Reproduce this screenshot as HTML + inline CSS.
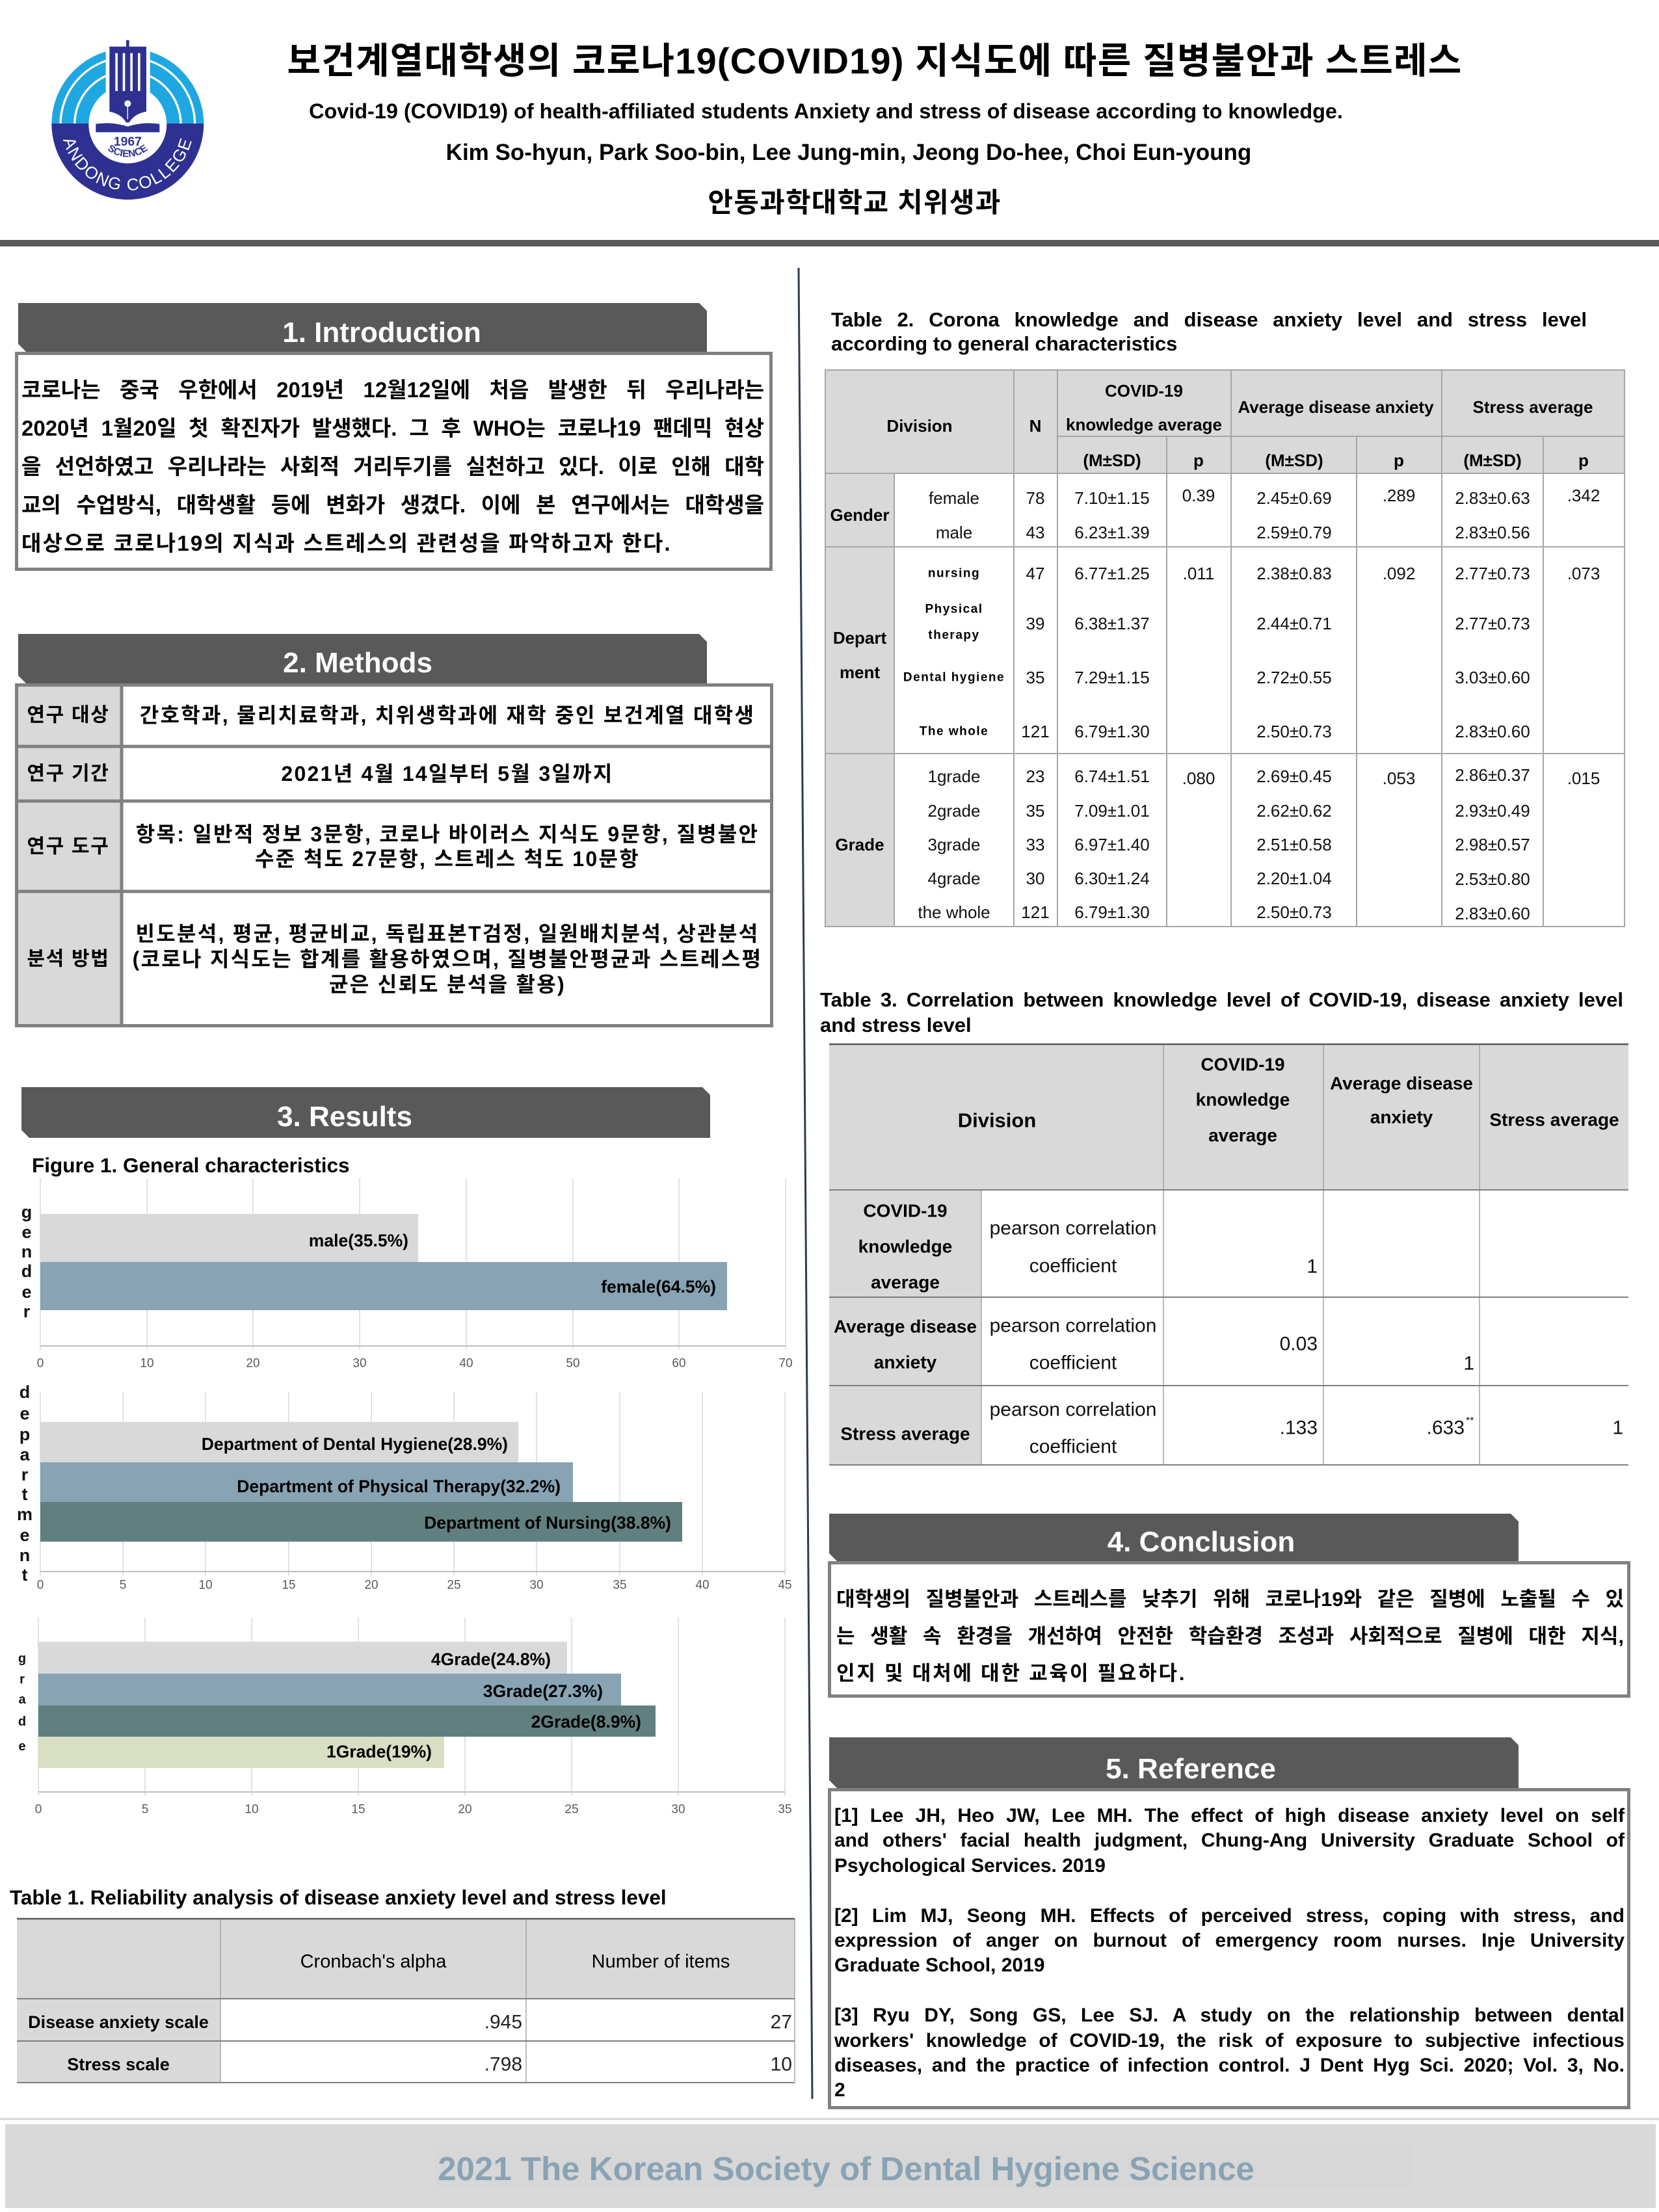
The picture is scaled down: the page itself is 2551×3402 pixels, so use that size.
<!DOCTYPE html>
<html><head><meta charset="utf-8">
<style>
html,body{margin:0;padding:0;background:#fff;}
body{width:2551px;height:3402px;position:relative;overflow:hidden;font-family:"Liberation Sans","Noto Sans CJK KR",sans-serif;}
svg.main{position:absolute;left:0;top:0;}
.p{position:absolute;font-weight:bold;color:#000;font-family:"Liberation Sans","Noto Sans CJK KR",sans-serif;}
.p div{text-align:justify;text-align-last:justify;}
.p div.l{text-align:left;text-align-last:left;}
</style></head><body>
<svg class="main" width="2551" height="3402" viewBox="0 0 2551 3402" font-family="'Liberation Sans','Noto Sans CJK KR',sans-serif">
<!-- LOGO -->
<svg x="40" y="40" width="300" height="300" viewBox="0 0 900 900">
  <path d="M118,454 A351,351 0 0 1 820,454 Z" fill="#1ea7e1"/>
  <circle cx="469" cy="454" r="310" fill="none" stroke="#fff" stroke-width="10"/>
  <circle cx="469" cy="454" r="245" fill="none" stroke="#fff" stroke-width="10"/>
  <path d="M118,450 A351,351 0 0 0 820,450 Z" fill="#2e3192"/>
  <circle cx="469" cy="454" r="180" fill="#fff"/>
  <rect x="368" y="55" width="204" height="395" fill="#fff"/>
  <rect x="462" y="65" width="14" height="35" fill="#2e3192"/>
  <rect x="385" y="95" width="170" height="252" fill="#2e3192"/>
  <rect x="412" y="125" width="11" height="175" fill="#fff"/>
  <rect x="446" y="125" width="11" height="175" fill="#fff"/>
  <rect x="481" y="125" width="11" height="175" fill="#fff"/>
  <rect x="516" y="125" width="11" height="175" fill="#fff"/>
  <path d="M385,345 L555,345 L555,395 Q500,405 476,445 L462,445 Q438,405 385,395 Z" fill="#2e3192"/>
  <circle cx="469" cy="358" r="15" fill="#fff"/>
  <rect x="467" y="360" width="4" height="70" fill="#fff"/>
  <path d="M322,452 Q400,440 469,464 Q538,440 616,452 L616,490 L322,490 Z" fill="#2e3192"/>
  <text x="469" y="552" font-size="58" font-weight="bold" fill="#2e3192" text-anchor="middle" font-family="'Liberation Sans',sans-serif">1967</text>
  <path id="sciArc" d="M319,454 A150,150 0 0 0 619,454" fill="none"/>
  <text font-size="46" font-weight="bold" fill="#2e3192" font-family="'Liberation Sans',sans-serif"><textPath href="#sciArc" startOffset="50%" text-anchor="middle">SCIENCE</textPath></text>
  <path id="andArc" d="M164,454 A305,305 0 0 0 774,454" fill="none"/>
  <text font-size="78" fill="#fff" letter-spacing="6" font-family="'Liberation Sans',sans-serif"><textPath href="#andArc" startOffset="50%" text-anchor="middle">ANDONG COLLEGE</textPath></text>
</svg>

<!-- HEADER TEXT -->
<text x="1345" y="113" font-size="56" font-weight="bold" text-anchor="middle" letter-spacing="1.2">보건계열대학생의 코로나19(COVID19) 지식도에 따른 질병불안과 스트레스</text>
<text x="1270" y="182" font-size="32.4" font-weight="bold" text-anchor="middle">Covid-19 (COVID19) of health-affiliated students Anxiety and stress of disease according to knowledge.</text>
<text x="1305" y="246" font-size="35" font-weight="bold" text-anchor="middle">Kim So-hyun, Park Soo-bin, Lee Jung-min, Jeong Do-hee, Choi Eun-young</text>
<text x="1314" y="326" font-size="42" font-weight="bold" text-anchor="middle" letter-spacing="1.2">안동과학대학교 치위생과</text>
<rect x="0" y="369" width="2551" height="10" fill="#595959"/>

<!-- vertical divider -->
<line x1="1228" y1="412" x2="1249" y2="3228" stroke="#2f3b52" stroke-width="3"/>

<!-- SECTION HEADERS -->
<g fill="#595959">
<polygon points="28,466 1075,466 1087,478 1087,541 40,541 28,529"/>
<polygon points="28,975 1075,975 1087,987 1087,1051 40,1051 28,1039"/>
<polygon points="33,1672 1080,1672 1092,1684 1092,1750 45,1750 33,1738"/>
<polygon points="1275,2328 2323,2328 2335,2340 2335,2401 1287,2401 1275,2389"/>
<polygon points="1275,2672 2323,2672 2335,2684 2335,2750 1287,2750 1275,2738"/>
</g>
<g fill="#fff" font-size="44" font-weight="bold" text-anchor="middle">
<text x="587" y="526">1. Introduction</text>
<text x="550" y="1034">2. Methods</text>
<text x="530" y="1732">3. Results</text>
<text x="1847" y="2386">4. Conclusion</text>
<text x="1831" y="2735">5. Reference</text>
</g>

<!-- BOXES -->
<g fill="none" stroke="#808080" stroke-width="5">
<rect x="25.5" y="543.5" width="1160" height="332"/>
<rect x="1275.5" y="2403.5" width="1229" height="205"/>
<rect x="1275.5" y="2752.5" width="1229" height="489"/>
</g>

<!-- METHODS TABLE -->
<rect x="25" y="1053" width="162" height="525" fill="#d9d9d9"/>
<g fill="none" stroke="#808080" stroke-width="5">
<rect x="25.5" y="1053.5" width="1161" height="524"/>
<line x1="187" y1="1051" x2="187" y2="1580"/>
<line x1="23" y1="1148" x2="1189" y2="1148"/>
<line x1="23" y1="1232" x2="1189" y2="1232"/>
<line x1="23" y1="1371" x2="1189" y2="1371"/>
</g>
<g font-weight="bold" text-anchor="middle" dominant-baseline="central">
<g font-size="30" letter-spacing="1.7">
<text x="105" y="1100">연구 대상</text>
<text x="105" y="1190">연구 기간</text>
<text x="105" y="1302">연구 도구</text>
<text x="105" y="1475">분석 방법</text>
</g>
<g font-size="32" letter-spacing="2.3">
<text x="688" y="1100">간호학과, 물리치료학과, 치위생학과에 재학 중인 보건계열 대학생</text>
<text x="688" y="1190">2021년 4월 14일부터 5월 3일까지</text>
<text x="688" y="1283">항목:  일반적 정보 3문항, 코로나 바이러스 지식도 9문항, 질병불안</text>
<text x="688" y="1321">수준 척도 27문항, 스트레스 척도 10문항</text>
<text x="688" y="1436">빈도분석, 평균, 평균비교, 독립표본T검정, 일원배치분석, 상관분석</text>
<text x="688" y="1475">(코로나 지식도는 합계를 활용하였으며, 질병불안평균과 스트레스평</text>
<text x="688" y="1514">균은 신뢰도 분석을 활용)</text>
</g>
</g>

<!-- FIGURE 1 -->
<text x="49" y="1803" font-size="31.5" font-weight="bold">Figure 1. General characteristics</text>

<!-- chart 1 -->
<g stroke="#d9d9d9" stroke-width="1.5">
<line x1="62" y1="1812" x2="62" y2="2076"/><line x1="226" y1="1812" x2="226" y2="2076"/><line x1="389" y1="1812" x2="389" y2="2076"/><line x1="553" y1="1812" x2="553" y2="2076"/><line x1="717" y1="1812" x2="717" y2="2076"/><line x1="881" y1="1812" x2="881" y2="2076"/><line x1="1044" y1="1812" x2="1044" y2="2076"/><line x1="1208" y1="1812" x2="1208" y2="2076"/>
</g>
<line x1="62" y1="2070" x2="1208" y2="2070" stroke="#bfbfbf" stroke-width="2"/>
<rect x="62" y="1867" width="581" height="74" fill="#d9d9d9"/>
<rect x="62" y="1941" width="1056" height="74" fill="#87a3b4"/>

<!-- chart 2 -->
<g stroke="#d9d9d9" stroke-width="1.5">
<line x1="62" y1="2141" x2="62" y2="2423"/><line x1="189" y1="2141" x2="189" y2="2423"/><line x1="316" y1="2141" x2="316" y2="2423"/><line x1="444" y1="2141" x2="444" y2="2423"/><line x1="571" y1="2141" x2="571" y2="2423"/><line x1="698" y1="2141" x2="698" y2="2423"/><line x1="825" y1="2141" x2="825" y2="2423"/><line x1="953" y1="2141" x2="953" y2="2423"/><line x1="1080" y1="2141" x2="1080" y2="2423"/><line x1="1207" y1="2141" x2="1207" y2="2423"/>
</g>
<line x1="62" y1="2417" x2="1207" y2="2417" stroke="#bfbfbf" stroke-width="2"/>
<rect x="62" y="2187" width="735" height="62" fill="#d9d9d9"/>
<rect x="62" y="2249" width="819" height="61" fill="#87a3b4"/>
<rect x="62" y="2310" width="987" height="61" fill="#627f7f"/>

<!-- chart 3 -->
<g stroke="#d9d9d9" stroke-width="1.5">
<line x1="59" y1="2488" x2="59" y2="2762"/><line x1="223" y1="2488" x2="223" y2="2762"/><line x1="387" y1="2488" x2="387" y2="2762"/><line x1="551" y1="2488" x2="551" y2="2762"/><line x1="715" y1="2488" x2="715" y2="2762"/><line x1="879" y1="2488" x2="879" y2="2762"/><line x1="1043" y1="2488" x2="1043" y2="2762"/><line x1="1207" y1="2488" x2="1207" y2="2762"/>
</g>
<line x1="59" y1="2756" x2="1207" y2="2756" stroke="#bfbfbf" stroke-width="2"/>
<rect x="59" y="2525" width="813" height="49" fill="#d9d9d9"/>
<rect x="59" y="2574" width="896" height="49" fill="#87a3b4"/>
<rect x="59" y="2623" width="949" height="48" fill="#627f7f"/>
<rect x="59" y="2671" width="624" height="48" fill="#d8dfc2"/>

<!-- tick labels -->
<g font-size="19" fill="#595959" text-anchor="middle" dominant-baseline="central">
<text x="62" y="2097">0</text><text x="226" y="2097">10</text><text x="389" y="2097">20</text><text x="553" y="2097">30</text><text x="717" y="2097">40</text><text x="881" y="2097">50</text><text x="1044" y="2097">60</text><text x="1208" y="2097">70</text>
<text x="62" y="2438">0</text><text x="189" y="2438">5</text><text x="316" y="2438">10</text><text x="444" y="2438">15</text><text x="571" y="2438">20</text><text x="698" y="2438">25</text><text x="825" y="2438">30</text><text x="953" y="2438">35</text><text x="1080" y="2438">40</text><text x="1207" y="2438">45</text>
<text x="59" y="2783">0</text><text x="223" y="2783">5</text><text x="387" y="2783">10</text><text x="551" y="2783">15</text><text x="715" y="2783">20</text><text x="879" y="2783">25</text><text x="1043" y="2783">30</text><text x="1207" y="2783">35</text>
</g>

<!-- bar labels -->
<g font-size="26.5" font-weight="bold" text-anchor="end" dominant-baseline="central" fill="#000">
<text x="628" y="1908">male(35.5%)</text>
<text x="1101" y="1979">female(64.5%)</text>
<text x="781" y="2221">Department of Dental Hygiene(28.9%)</text>
<text x="862" y="2286">Department of Physical Therapy(32.2%)</text>
<text x="1032" y="2342">Department of Nursing(38.8%)</text>
<text x="847" y="2552">4Grade(24.8%)</text>
<text x="927" y="2601">3Grade(27.3%)</text>
<text x="986" y="2648">2Grade(8.9%)</text>
<text x="664" y="2694">1Grade(19%)</text>
</g>

<!-- vertical axis letters -->
<g font-size="27" font-weight="bold" text-anchor="middle" dominant-baseline="central" fill="#111">
<text x="41" y="1864">g</text><text x="41" y="1895">e</text><text x="41" y="1925">n</text><text x="41" y="1955">d</text><text x="41" y="1987">e</text><text x="41" y="2017">r</text>
<text x="38" y="2141">d</text><text x="38" y="2174">e</text><text x="38" y="2206">p</text><text x="38" y="2237">a</text><text x="38" y="2268">r</text><text x="38" y="2298">t</text><text x="38" y="2329">m</text><text x="38" y="2361">e</text><text x="38" y="2392">n</text><text x="38" y="2422">t</text>
</g>
<g font-size="20" font-weight="bold" text-anchor="middle" dominant-baseline="central" fill="#111">
<text x="34" y="2551">g</text><text x="34" y="2583">r</text><text x="34" y="2614">a</text><text x="34" y="2648">d</text><text x="34" y="2686">e</text>
</g>

<!-- TABLE 1 -->
<text x="15" y="2929" font-size="31.5" font-weight="bold">Table 1. Reliability analysis of disease anxiety level and stress level</text>
<rect x="26" y="2951" width="1196" height="123" fill="#d9d9d9"/>
<rect x="26" y="3074" width="313" height="129" fill="#d9d9d9"/>
<g stroke="#a6a6a6" stroke-width="1.5">
<line x1="339" y1="2951" x2="339" y2="3203"/>
<line x1="809" y1="2951" x2="809" y2="3203"/>
<line x1="1222" y1="2951" x2="1222" y2="3203"/>
</g>
<line x1="26" y1="2951" x2="1222" y2="2951" stroke="#595959" stroke-width="2.5"/>
<g stroke="#7f7f7f" stroke-width="2">
<line x1="26" y1="3074" x2="1222" y2="3074"/>
<line x1="26" y1="3139" x2="1222" y2="3139"/>
<line x1="26" y1="3203" x2="1222" y2="3203"/>
</g>
<g dominant-baseline="central">
<text x="574" y="3017" font-size="29" text-anchor="middle">Cronbach's alpha</text>
<text x="1016" y="3017" font-size="29" text-anchor="middle">Number of items</text>
<text x="182" y="3110" font-size="27" font-weight="bold" text-anchor="middle">Disease anxiety scale</text>
<text x="182" y="3175" font-size="27" font-weight="bold" text-anchor="middle">Stress scale</text>
<g font-size="30" text-anchor="end" fill="#222">
<text x="803" y="3110">.945</text><text x="1218" y="3110">27</text>
<text x="803" y="3175">.798</text><text x="1218" y="3175">10</text>
</g>
</g>

<!-- TABLE 2 -->
<rect x="1269" y="569" width="1229" height="159" fill="#d9d9d9"/>
<rect x="1269" y="728" width="106" height="697" fill="#d9d9d9"/>
<g stroke="#a6a6a6" stroke-width="2" fill="none">
<rect x="1269" y="569" width="1229" height="856"/>
<line x1="1626" y1="671" x2="2498" y2="671"/>
<line x1="1269" y1="728" x2="2498" y2="728"/>
<line x1="1269" y1="841" x2="2498" y2="841"/>
<line x1="1269" y1="1159" x2="2498" y2="1159"/>
<line x1="1375" y1="728" x2="1375" y2="1425"/>
<line x1="1559" y1="569" x2="1559" y2="1425"/>
<line x1="1626" y1="569" x2="1626" y2="1425"/>
<line x1="1794" y1="671" x2="1794" y2="1425"/>
<line x1="1893" y1="569" x2="1893" y2="1425"/>
<line x1="2086" y1="671" x2="2086" y2="1425"/>
<line x1="2217" y1="569" x2="2217" y2="1425"/>
<line x1="2373" y1="671" x2="2373" y2="1425"/>
</g>
<g text-anchor="middle" dominant-baseline="central" font-size="26">
<g font-weight="bold">
<text x="1414" y="655">Division</text>
<text x="1592" y="655">N</text>
<text x="1759" y="601">COVID-19</text>
<text x="1759" y="653">knowledge average</text>
<text x="2054" y="626">Average disease anxiety</text>
<text x="2357" y="626">Stress average</text>
<text x="1710" y="708">(M±SD)</text><text x="1843" y="708">p</text>
<text x="1990" y="708">(M±SD)</text><text x="2151" y="708">p</text>
<text x="2295" y="708">(M±SD)</text><text x="2435" y="708">p</text>
<text x="1322" y="792">Gender</text>
<text x="1322" y="981">Depart</text>
<text x="1322" y="1034">ment</text>
<text x="1322" y="1299">Grade</text>
</g>
<g font-size="19" font-weight="bold" letter-spacing="1.5">
<text x="1467" y="882">nursing</text>
<text x="1467" y="937">Physical</text>
<text x="1467" y="977">therapy</text>
<text x="1467" y="1042">Dental hygiene</text>
<text x="1467" y="1125">The whole</text>
</g>
<g fill="#111">
<text x="1467" y="766">female</text><text x="1467" y="819">male</text>
<text x="1592" y="766">78</text><text x="1592" y="819">43</text>
<text x="1710" y="766">7.10±1.15</text><text x="1710" y="819">6.23±1.39</text>
<text x="1843" y="762">0.39</text>
<text x="1990" y="766">2.45±0.69</text><text x="1990" y="819">2.59±0.79</text>
<text x="2151" y="762">.289</text>
<text x="2295" y="766">2.83±0.63</text><text x="2295" y="819">2.83±0.56</text>
<text x="2435" y="762">.342</text>

<text x="1592" y="882">47</text><text x="1592" y="959">39</text><text x="1592" y="1042">35</text><text x="1592" y="1125">121</text>
<text x="1710" y="882">6.77±1.25</text><text x="1710" y="959">6.38±1.37</text><text x="1710" y="1042">7.29±1.15</text><text x="1710" y="1125">6.79±1.30</text>
<text x="1843" y="882">.011</text>
<text x="1990" y="882">2.38±0.83</text><text x="1990" y="959">2.44±0.71</text><text x="1990" y="1042">2.72±0.55</text><text x="1990" y="1125">2.50±0.73</text>
<text x="2151" y="882">.092</text>
<text x="2295" y="882">2.77±0.73</text><text x="2295" y="959">2.77±0.73</text><text x="2295" y="1042">3.03±0.60</text><text x="2295" y="1125">2.83±0.60</text>
<text x="2435" y="882">.073</text>

<text x="1467" y="1194">1grade</text><text x="1467" y="1247">2grade</text><text x="1467" y="1299">3grade</text><text x="1467" y="1351">4grade</text><text x="1467" y="1403">the whole</text>
<text x="1592" y="1194">23</text><text x="1592" y="1247">35</text><text x="1592" y="1299">33</text><text x="1592" y="1351">30</text><text x="1592" y="1403">121</text>
<text x="1710" y="1194">6.74±1.51</text><text x="1710" y="1247">7.09±1.01</text><text x="1710" y="1299">6.97±1.40</text><text x="1710" y="1351">6.30±1.24</text><text x="1710" y="1403">6.79±1.30</text>
<text x="1843" y="1197">.080</text>
<text x="1990" y="1194">2.69±0.45</text><text x="1990" y="1247">2.62±0.62</text><text x="1990" y="1299">2.51±0.58</text><text x="1990" y="1351">2.20±1.04</text><text x="1990" y="1403">2.50±0.73</text>
<text x="2151" y="1197">.053</text>
<text x="2295" y="1192">2.86±0.37</text><text x="2295" y="1247">2.93±0.49</text><text x="2295" y="1299">2.98±0.57</text><text x="2295" y="1352">2.53±0.80</text><text x="2295" y="1405">2.83±0.60</text>
<text x="2435" y="1197">.015</text>
</g>
</g>

<!-- TABLE 3 -->
<rect x="1275" y="1606" width="1229" height="224" fill="#d9d9d9"/>
<rect x="1275" y="1830" width="234" height="423" fill="#d9d9d9"/>
<g stroke="#a6a6a6" stroke-width="1.5">
<line x1="1509" y1="1830" x2="1509" y2="2253"/>
<line x1="1789" y1="1606" x2="1789" y2="2253"/>
<line x1="2035" y1="1606" x2="2035" y2="2253"/>
<line x1="2275" y1="1606" x2="2275" y2="2253"/>
</g>
<line x1="1275" y1="1606" x2="2504" y2="1606" stroke="#595959" stroke-width="2.5"/>
<g stroke="#7f7f7f" stroke-width="2">
<line x1="1275" y1="1830" x2="2504" y2="1830"/>
<line x1="1275" y1="1995" x2="2504" y2="1995"/>
<line x1="1275" y1="2131" x2="2504" y2="2131"/>
<line x1="1275" y1="2253" x2="2504" y2="2253"/>
</g>
<g text-anchor="middle" dominant-baseline="central">
<text x="1533" y="1723" font-size="31" font-weight="bold">Division</text>
<g font-size="28" font-weight="bold">
<text x="1911" y="1637">COVID-19</text>
<text x="1911" y="1691">knowledge</text>
<text x="1911" y="1746">average</text>
<text x="2155" y="1666">Average disease</text>
<text x="2155" y="1718">anxiety</text>
<text x="2390" y="1722">Stress average</text>
<text x="1392" y="1862">COVID-19</text>
<text x="1392" y="1917">knowledge</text>
<text x="1392" y="1972">average</text>
<text x="1392" y="2040">Average disease</text>
<text x="1392" y="2095">anxiety</text>
<text x="1392" y="2205">Stress average</text>
</g>
<g font-size="30" fill="#111">
<text x="1650" y="1889">pearson correlation</text>
<text x="1650" y="1947">coefficient</text>
<text x="1650" y="2039">pearson correlation</text>
<text x="1650" y="2096">coefficient</text>
<text x="1650" y="2168">pearson correlation</text>
<text x="1650" y="2225">coefficient</text>
</g>
<g font-size="30" fill="#111" text-anchor="end">
<text x="2026" y="1948">1</text>
<text x="2026" y="2067">0.03</text>
<text x="2267" y="2097">1</text>
<text x="2026" y="2196">.133</text>
<text x="2252" y="2196">.633</text>
<text x="2496" y="2196">1</text>
</g>
</g>
<text x="2254" y="2190" font-size="16" fill="#111">**</text>

<!-- FOOTER -->
<line x1="0" y1="3259" x2="2551" y2="3259" stroke="#d4d4d4" stroke-width="3"/>
<rect x="8" y="3267" width="2538" height="129" fill="#d9d9d9"/>
<rect x="667" y="3298" width="1505" height="69" fill="#d7d7d7"/>
<text x="1301" y="3353" font-size="51" font-weight="bold" fill="#89a3b5" text-anchor="middle">2021 The Korean Society of Dental Hygiene Science</text>
</svg>

<!-- Intro paragraph -->
<div class="p" style="left:33px;top:570px;width:1142px;font-size:33px;line-height:59px;">
<div>코로나는 중국 우한에서 2019년 12월12일에 처음 발생한 뒤 우리나라는</div>
<div>2020년 1월20일 첫 확진자가 발생했다. 그 후 WHO는 코로나19 팬데믹 현상</div>
<div>을 선언하였고 우리나라는 사회적 거리두기를 실천하고 있다. 이로 인해 대학</div>
<div>교의 수업방식, 대학생활 등에 변화가 생겼다. 이에 본 연구에서는 대학생을</div>
<div class="l" style="letter-spacing:2.2px;">대상으로 코로나19의 지식과 스트레스의 관련성을 파악하고자 한다.</div>
</div>

<!-- Table 2 title -->
<div class="p" style="left:1278px;top:473px;width:1162px;font-size:31px;line-height:37px;">
<div>Table 2. Corona knowledge and disease anxiety level and stress level</div>
<div class="l">according to general characteristics</div>
</div>

<!-- Table 3 title -->
<div class="p" style="left:1261px;top:1518px;width:1235px;font-size:31px;line-height:39px;">
<div>Table 3. Correlation between knowledge level of COVID-19, disease anxiety level</div>
<div class="l">and stress level</div>
</div>

<!-- Conclusion -->
<div class="p" style="left:1286px;top:2431px;width:1211px;font-size:31px;line-height:57px;">
<div>대학생의 질병불안과 스트레스를 낮추기 위해 코로나19와 같은 질병에 노출될 수 있</div>
<div>는 생활 속 환경을 개선하여 안전한 학습환경 조성과 사회적으로 질병에 대한 지식,</div>
<div class="l" style="letter-spacing:2.8px;">인지 및 대처에 대한 교육이 필요하다.</div>
</div>

<!-- Reference -->
<div class="p" style="left:1283px;top:2774px;width:1215px;font-size:30px;line-height:38.4px;">
<div>[1] Lee JH, Heo JW, Lee MH. The effect of high disease anxiety level on self</div>
<div>and others' facial health judgment, Chung-Ang University Graduate School of</div>
<div class="l">Psychological Services. 2019</div>
<div class="l">&nbsp;</div>
<div>[2] Lim MJ, Seong MH. Effects of perceived stress, coping with stress, and</div>
<div>expression of anger on burnout of emergency room nurses. Inje University</div>
<div class="l">Graduate School, 2019</div>
<div class="l">&nbsp;</div>
<div>[3] Ryu DY, Song GS, Lee SJ. A study on the relationship between dental</div>
<div>workers' knowledge of COVID-19, the risk of exposure to subjective infectious</div>
<div>diseases, and the practice of infection control. J Dent Hyg Sci. 2020; Vol. 3, No.</div>
<div class="l">2</div>
</div>
</body></html>
